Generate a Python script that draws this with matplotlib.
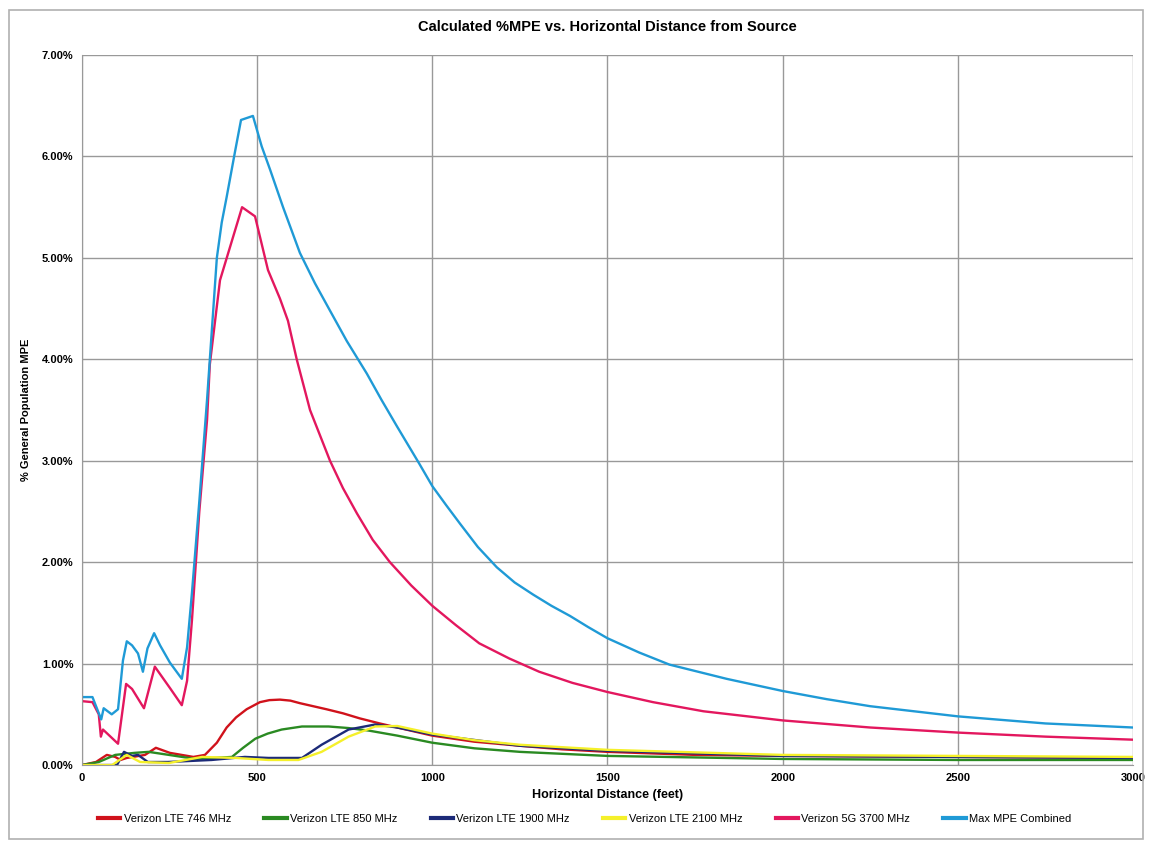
import matplotlib
matplotlib.use('Agg')
import matplotlib.pyplot as plt
from matplotlib.ticker import FuncFormatter
from matplotlib.patches import Rectangle

plt.rcParams['font.family'] = ['Liberation Sans', 'DejaVu Sans']

# distance (feet) and %MPE values
x_746 = [0, 40, 71, 95, 110, 128, 180, 211, 251, 318, 351, 385, 413, 440, 470, 508, 535, 565, 595, 622, 660, 698, 745, 793, 850, 900,
         1000, 1120, 1250, 1370, 1500, 1750, 2000, 2500, 3000]
y_746 = [0.0, 0.03, 0.10, 0.08, 0.05, 0.07, 0.10, 0.17, 0.12, 0.08, 0.10, 0.22, 0.37, 0.47, 0.55, 0.62, 0.64, 0.645, 0.635, 0.61, 0.58, 0.55, 0.51, 0.46, 0.41, 0.37,
         0.29, 0.23, 0.19, 0.155, 0.13, 0.10, 0.09, 0.08, 0.07]

x_850 = [0, 48, 95, 150, 190, 248, 324, 428, 460, 495, 530, 570, 628, 704, 760, 818, 900, 1000, 1120, 1250, 1500, 2000, 2500, 3000]
y_850 = [0.0, 0.03, 0.10, 0.12, 0.13, 0.10, 0.06, 0.08, 0.17, 0.26, 0.31, 0.35, 0.38, 0.38, 0.365, 0.34, 0.29, 0.22, 0.165, 0.13, 0.09, 0.06, 0.05, 0.05]

x_1900 = [0, 100, 120, 143, 160, 188, 245, 370, 465, 532, 628, 684, 761, 837, 900, 1000, 1250, 1500, 2000, 2500, 3000]
y_1900 = [0.0, 0.0, 0.13, 0.09, 0.10, 0.03, 0.03, 0.05, 0.08, 0.07, 0.07, 0.20, 0.35, 0.40, 0.37, 0.30, 0.19, 0.14, 0.09, 0.08, 0.07]

x_2100 = [0, 86, 128, 166, 248, 343, 438, 532, 618, 684, 761, 837, 900, 1000, 1120, 1250, 1500, 2000, 2500, 3000]
y_2100 = [0.0, 0.0, 0.10, 0.03, 0.02, 0.08, 0.07, 0.05, 0.05, 0.13, 0.28, 0.38, 0.385, 0.31, 0.245, 0.20, 0.15, 0.10, 0.09, 0.08]

x_5g = [0, 30, 48, 54, 60, 103, 126, 143, 177, 208, 251, 285, 300, 314, 335, 357, 365, 394, 422, 457, 494, 531, 565, 588,
        613, 651, 708, 745, 785, 830, 879, 940, 1000, 1067, 1134, 1220, 1305, 1400, 1500, 1630, 1774, 1900, 2000, 2250, 2500, 2750, 3000]
y_5g = [0.63, 0.62, 0.50, 0.28, 0.35, 0.21, 0.80, 0.75, 0.56, 0.97, 0.76, 0.59, 0.83, 1.43, 2.5, 3.4, 3.95, 4.78, 5.1, 5.5, 5.41, 4.88, 4.6, 4.38,
        4.0, 3.5, 3.0, 2.73, 2.48, 2.22, 2.0, 1.77, 1.57, 1.38, 1.2, 1.05, 0.92, 0.81, 0.72, 0.62, 0.53, 0.48, 0.44, 0.37, 0.32, 0.28, 0.25]

x_max = [0, 30, 55, 62, 85, 103, 117, 128, 143, 160, 174, 187, 206, 223, 251, 285, 300, 314, 335, 357, 365, 385, 399, 413, 437,
         454, 488, 513, 537, 574, 622, 665, 708, 756, 813, 855, 899, 963, 1000, 1040, 1079, 1130, 1184, 1235, 1288, 1340, 1393, 1445,
         1500, 1590, 1677, 1840, 2000, 2125, 2250, 2375, 2500, 2750, 3000]
y_max = [0.67, 0.67, 0.45, 0.56, 0.50, 0.55, 1.03, 1.22, 1.18, 1.10, 0.92, 1.15, 1.30, 1.18, 1.01, 0.85, 1.16, 1.70, 2.6, 3.6, 4.0, 5.0, 5.35, 5.6, 6.05,
         6.36, 6.40, 6.1, 5.87, 5.5, 5.05, 4.75, 4.48, 4.18, 3.86, 3.6, 3.34, 2.97, 2.75, 2.56, 2.38, 2.15, 1.95, 1.80, 1.68, 1.57, 1.47, 1.36,
         1.25, 1.11, 0.99, 0.85, 0.73, 0.65, 0.58, 0.53, 0.48, 0.41, 0.37]

series = [
    (x_746, y_746, 'Verizon LTE 746 MHz', '#d0121b'),
    (x_850, y_850, 'Verizon LTE 850 MHz', '#2a8a22'),
    (x_1900, y_1900, 'Verizon LTE 1900 MHz', '#1c2a78'),
    (x_2100, y_2100, 'Verizon LTE 2100 MHz', '#f5f02a'),
    (x_5g, y_5g, 'Verizon 5G 3700 MHz', '#e3175e'),
    (x_max, y_max, 'Max MPE Combined', '#1f9ad6'),
]

fig = plt.figure(figsize=(11.51, 8.42), dpi=100)
ax = fig.add_axes([0.0712, 0.0914, 0.9132, 0.8432])

for xs, ys, lab, col in series:
    ax.plot(xs, [v / 100 for v in ys], color=col, lw=1.7, label=lab,
            solid_joinstyle='round')

ax.set_xlim(0, 3000)
ax.set_ylim(0, 0.07)
ax.set_xticks([0, 500, 1000, 1500, 2000, 2500, 3000])
ax.set_yticks([i / 100 for i in range(8)])
ax.yaxis.set_major_formatter(FuncFormatter(lambda v, p: '%.2f%%' % (v * 100)))
ax.grid(True, color='#999999', lw=1)
ax.set_axisbelow(True)
ax.tick_params(length=0, labelsize=8, pad=6)
for lbl in ax.get_xticklabels() + ax.get_yticklabels():
    lbl.set_fontweight('bold')
for s in ['top', 'right']:
    ax.spines[s].set_visible(False)
for s in ['left', 'bottom']:
    ax.spines[s].set_color('#999999')

ax.set_title('Calculated %MPE vs. Horizontal Distance from Source', fontsize=10.5, fontweight='bold', pad=17)
ax.set_xlabel('Horizontal Distance (feet)', fontsize=9, fontweight='bold', labelpad=4)
ax.set_ylabel('% General Population MPE', fontsize=8, fontweight='bold', labelpad=8)

leg = fig.legend(loc='center', bbox_to_anchor=(0.508, 0.027), ncol=6, frameon=False,
                 fontsize=8, handlelength=2.0, columnspacing=3.0, handletextpad=0.3)
for h in leg.get_lines():
    h.set_linewidth(3)

fig.patches.append(Rectangle((0.008, 0.004), 0.985, 0.984, transform=fig.transFigure,
                             fill=False, edgecolor='#b0b0b0', lw=1.2))

fig.savefig('out.png', dpi=100)
